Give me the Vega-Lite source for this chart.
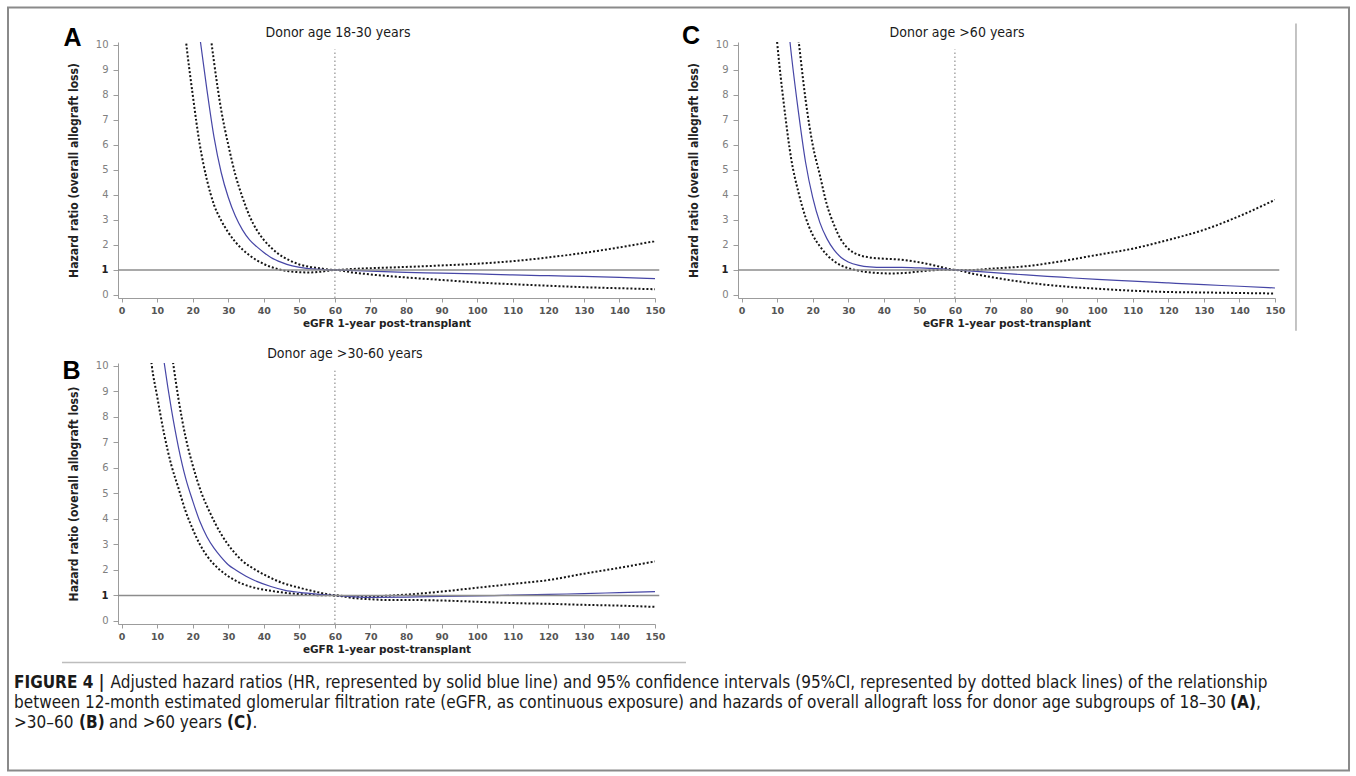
{
  "$schema": "https://vega.github.io/schema/vega-lite/v6.json",
  "padding": {"left": 7, "top": 6, "right": 6, "bottom": 5},
  "background": "white",
  "config": {
    "font": "Liberation Sans",
    "view": {"stroke": null},
    "axis": {"grid": false, "domainColor": "#9c9c9c", "tickColor": "#9c9c9c", "domainWidth": 1, "tickWidth": 1, "labelOverlap": false},
    "axisX": {"labelFont": "DejaVu Sans", "labelFontWeight": "bold", "labelFontSize": 9.5, "labelColor": "#555555", "tickSize": 4, "labelPadding": 3, "labelFlush": false, "titleFont": "DejaVu Sans", "titleFontWeight": "bold", "titleFontSize": 10.5, "titleColor": "#222222", "titlePadding": 4},
    "axisY": {"labelFont": "DejaVu Sans", "labelFontSize": 10, "labelColor": "#808080", "tickSize": 5, "labelPadding": 5, "titleFont": "DejaVu Sans Condensed, Liberation Sans", "titleFontWeight": "bold", "titleFontSize": 12, "titleColor": "#222222", "titlePadding": 15}
  },
  "datasets": {
    "labels": [
      {"panel": "A", "letter": "A", "title": "Donor age 18-30 years"},
      {"panel": "B", "letter": "B", "title": "Donor age >30-60 years"},
      {"panel": "C", "letter": "C", "title": "Donor age >60 years"}
    ],
    "caption": [
      {"line": 1, "part": 1, "text": "FIGURE 4 |"},
      {"line": 1, "part": 2, "text": "Adjusted hazard ratios (HR, represented by solid blue line) and 95% confidence intervals (95%CI, represented by dotted black lines) of the relationship"},
      {"line": 2, "part": 1, "text": "between 12-month estimated glomerular filtration rate (eGFR, as continuous exposure) and hazards of overall allograft loss for donor age subgroups of 18–30"},
      {"line": 2, "part": 2, "text": "(A)"},
      {"line": 2, "part": 3, "text": ","},
      {"line": 3, "part": 1, "text": ">30–60"},
      {"line": 3, "part": 2, "text": "(B)"},
      {"line": 3, "part": 3, "text": "and >60 years"},
      {"line": 3, "part": 4, "text": "(C)"},
      {"line": 3, "part": 5, "text": "."}
    ],
    "curves": [
      {"panel": "A", "series": "HR", "x": 21, "y": 11.4}, {"panel": "A", "series": "HR", "x": 22, "y": 10.3}, {"panel": "A", "series": "HR", "x": 24, "y": 8.2}, {"panel": "A", "series": "HR", "x": 26, "y": 6.3}, {"panel": "A", "series": "HR", "x": 28, "y": 4.9}, {"panel": "A", "series": "HR", "x": 30, "y": 3.9}, {"panel": "A", "series": "HR", "x": 32, "y": 3.15}, {"panel": "A", "series": "HR", "x": 34, "y": 2.6}, {"panel": "A", "series": "HR", "x": 36, "y": 2.2}, {"panel": "A", "series": "HR", "x": 38, "y": 1.93}, {"panel": "A", "series": "HR", "x": 40, "y": 1.7}, {"panel": "A", "series": "HR", "x": 42, "y": 1.5}, {"panel": "A", "series": "HR", "x": 45, "y": 1.3}, {"panel": "A", "series": "HR", "x": 48, "y": 1.16}, {"panel": "A", "series": "HR", "x": 52, "y": 1.06}, {"panel": "A", "series": "HR", "x": 56, "y": 1.02}, {"panel": "A", "series": "HR", "x": 60, "y": 1.0}, {"panel": "A", "series": "HR", "x": 70, "y": 0.95}, {"panel": "A", "series": "HR", "x": 80, "y": 0.9}, {"panel": "A", "series": "HR", "x": 90, "y": 0.87}, {"panel": "A", "series": "HR", "x": 100, "y": 0.84}, {"panel": "A", "series": "HR", "x": 110, "y": 0.8}, {"panel": "A", "series": "HR", "x": 120, "y": 0.77}, {"panel": "A", "series": "HR", "x": 130, "y": 0.74}, {"panel": "A", "series": "HR", "x": 140, "y": 0.7}, {"panel": "A", "series": "HR", "x": 150, "y": 0.65},
      {"panel": "A", "series": "lower", "x": 17.5, "y": 11.0}, {"panel": "A", "series": "lower", "x": 18, "y": 10.3}, {"panel": "A", "series": "lower", "x": 20, "y": 8.0}, {"panel": "A", "series": "lower", "x": 22, "y": 6.0}, {"panel": "A", "series": "lower", "x": 24, "y": 4.6}, {"panel": "A", "series": "lower", "x": 26, "y": 3.6}, {"panel": "A", "series": "lower", "x": 28, "y": 2.98}, {"panel": "A", "series": "lower", "x": 30, "y": 2.5}, {"panel": "A", "series": "lower", "x": 32, "y": 2.12}, {"panel": "A", "series": "lower", "x": 34, "y": 1.82}, {"panel": "A", "series": "lower", "x": 36, "y": 1.58}, {"panel": "A", "series": "lower", "x": 38, "y": 1.39}, {"panel": "A", "series": "lower", "x": 40, "y": 1.24}, {"panel": "A", "series": "lower", "x": 42, "y": 1.12}, {"panel": "A", "series": "lower", "x": 44, "y": 1.03}, {"panel": "A", "series": "lower", "x": 47, "y": 0.95}, {"panel": "A", "series": "lower", "x": 50, "y": 0.91}, {"panel": "A", "series": "lower", "x": 53, "y": 0.9}, {"panel": "A", "series": "lower", "x": 56, "y": 0.93}, {"panel": "A", "series": "lower", "x": 60, "y": 1.0}, {"panel": "A", "series": "lower", "x": 65, "y": 0.9}, {"panel": "A", "series": "lower", "x": 70, "y": 0.82}, {"panel": "A", "series": "lower", "x": 80, "y": 0.7}, {"panel": "A", "series": "lower", "x": 90, "y": 0.6}, {"panel": "A", "series": "lower", "x": 100, "y": 0.5}, {"panel": "A", "series": "lower", "x": 110, "y": 0.43}, {"panel": "A", "series": "lower", "x": 120, "y": 0.37}, {"panel": "A", "series": "lower", "x": 130, "y": 0.31}, {"panel": "A", "series": "lower", "x": 140, "y": 0.27}, {"panel": "A", "series": "lower", "x": 150, "y": 0.23},
      {"panel": "A", "series": "upper", "x": 24.5, "y": 11.0}, {"panel": "A", "series": "upper", "x": 25, "y": 10.4}, {"panel": "A", "series": "upper", "x": 26, "y": 9.3}, {"panel": "A", "series": "upper", "x": 28, "y": 7.4}, {"panel": "A", "series": "upper", "x": 30, "y": 6.0}, {"panel": "A", "series": "upper", "x": 32, "y": 4.8}, {"panel": "A", "series": "upper", "x": 34, "y": 3.9}, {"panel": "A", "series": "upper", "x": 36, "y": 3.15}, {"panel": "A", "series": "upper", "x": 38, "y": 2.6}, {"panel": "A", "series": "upper", "x": 40, "y": 2.2}, {"panel": "A", "series": "upper", "x": 42, "y": 1.9}, {"panel": "A", "series": "upper", "x": 44, "y": 1.65}, {"panel": "A", "series": "upper", "x": 47, "y": 1.4}, {"panel": "A", "series": "upper", "x": 50, "y": 1.22}, {"panel": "A", "series": "upper", "x": 53, "y": 1.12}, {"panel": "A", "series": "upper", "x": 56, "y": 1.06}, {"panel": "A", "series": "upper", "x": 60, "y": 1.0}, {"panel": "A", "series": "upper", "x": 65, "y": 1.04}, {"panel": "A", "series": "upper", "x": 70, "y": 1.07}, {"panel": "A", "series": "upper", "x": 80, "y": 1.12}, {"panel": "A", "series": "upper", "x": 90, "y": 1.18}, {"panel": "A", "series": "upper", "x": 100, "y": 1.25}, {"panel": "A", "series": "upper", "x": 110, "y": 1.35}, {"panel": "A", "series": "upper", "x": 120, "y": 1.5}, {"panel": "A", "series": "upper", "x": 130, "y": 1.68}, {"panel": "A", "series": "upper", "x": 140, "y": 1.9}, {"panel": "A", "series": "upper", "x": 150, "y": 2.15},
      {"panel": "B", "series": "HR", "x": 11.5, "y": 10.6}, {"panel": "B", "series": "HR", "x": 12, "y": 10.1}, {"panel": "B", "series": "HR", "x": 14, "y": 8.3}, {"panel": "B", "series": "HR", "x": 16, "y": 6.8}, {"panel": "B", "series": "HR", "x": 18, "y": 5.6}, {"panel": "B", "series": "HR", "x": 20, "y": 4.7}, {"panel": "B", "series": "HR", "x": 22, "y": 3.9}, {"panel": "B", "series": "HR", "x": 24, "y": 3.3}, {"panel": "B", "series": "HR", "x": 26, "y": 2.85}, {"panel": "B", "series": "HR", "x": 28, "y": 2.5}, {"panel": "B", "series": "HR", "x": 30, "y": 2.2}, {"panel": "B", "series": "HR", "x": 32, "y": 2.0}, {"panel": "B", "series": "HR", "x": 35, "y": 1.75}, {"panel": "B", "series": "HR", "x": 38, "y": 1.55}, {"panel": "B", "series": "HR", "x": 42, "y": 1.35}, {"panel": "B", "series": "HR", "x": 46, "y": 1.2}, {"panel": "B", "series": "HR", "x": 50, "y": 1.12}, {"panel": "B", "series": "HR", "x": 55, "y": 1.05}, {"panel": "B", "series": "HR", "x": 60, "y": 1.0}, {"panel": "B", "series": "HR", "x": 65, "y": 0.95}, {"panel": "B", "series": "HR", "x": 70, "y": 0.92}, {"panel": "B", "series": "HR", "x": 80, "y": 0.93}, {"panel": "B", "series": "HR", "x": 90, "y": 0.96}, {"panel": "B", "series": "HR", "x": 100, "y": 0.98}, {"panel": "B", "series": "HR", "x": 110, "y": 1.01}, {"panel": "B", "series": "HR", "x": 120, "y": 1.04}, {"panel": "B", "series": "HR", "x": 130, "y": 1.07}, {"panel": "B", "series": "HR", "x": 140, "y": 1.11}, {"panel": "B", "series": "HR", "x": 150, "y": 1.15},
      {"panel": "B", "series": "lower", "x": 8, "y": 10.6}, {"panel": "B", "series": "lower", "x": 8.5, "y": 10.0}, {"panel": "B", "series": "lower", "x": 10, "y": 8.8}, {"panel": "B", "series": "lower", "x": 12, "y": 7.3}, {"panel": "B", "series": "lower", "x": 14, "y": 6.1}, {"panel": "B", "series": "lower", "x": 16, "y": 5.2}, {"panel": "B", "series": "lower", "x": 18, "y": 4.3}, {"panel": "B", "series": "lower", "x": 20, "y": 3.6}, {"panel": "B", "series": "lower", "x": 22, "y": 3.0}, {"panel": "B", "series": "lower", "x": 24, "y": 2.55}, {"panel": "B", "series": "lower", "x": 27, "y": 2.08}, {"panel": "B", "series": "lower", "x": 30, "y": 1.75}, {"panel": "B", "series": "lower", "x": 34, "y": 1.45}, {"panel": "B", "series": "lower", "x": 38, "y": 1.28}, {"panel": "B", "series": "lower", "x": 42, "y": 1.18}, {"panel": "B", "series": "lower", "x": 46, "y": 1.1}, {"panel": "B", "series": "lower", "x": 50, "y": 1.05}, {"panel": "B", "series": "lower", "x": 55, "y": 1.01}, {"panel": "B", "series": "lower", "x": 60, "y": 1.0}, {"panel": "B", "series": "lower", "x": 65, "y": 0.9}, {"panel": "B", "series": "lower", "x": 70, "y": 0.85}, {"panel": "B", "series": "lower", "x": 75, "y": 0.82}, {"panel": "B", "series": "lower", "x": 80, "y": 0.82}, {"panel": "B", "series": "lower", "x": 90, "y": 0.8}, {"panel": "B", "series": "lower", "x": 100, "y": 0.75}, {"panel": "B", "series": "lower", "x": 110, "y": 0.7}, {"panel": "B", "series": "lower", "x": 120, "y": 0.67}, {"panel": "B", "series": "lower", "x": 130, "y": 0.63}, {"panel": "B", "series": "lower", "x": 140, "y": 0.6}, {"panel": "B", "series": "lower", "x": 150, "y": 0.55},
      {"panel": "B", "series": "upper", "x": 14, "y": 10.6}, {"panel": "B", "series": "upper", "x": 14.6, "y": 10.0}, {"panel": "B", "series": "upper", "x": 16, "y": 8.7}, {"panel": "B", "series": "upper", "x": 18, "y": 7.2}, {"panel": "B", "series": "upper", "x": 20, "y": 6.1}, {"panel": "B", "series": "upper", "x": 22.5, "y": 5.0}, {"panel": "B", "series": "upper", "x": 25, "y": 4.2}, {"panel": "B", "series": "upper", "x": 28, "y": 3.4}, {"panel": "B", "series": "upper", "x": 31, "y": 2.8}, {"panel": "B", "series": "upper", "x": 34, "y": 2.35}, {"panel": "B", "series": "upper", "x": 37.7, "y": 2.0}, {"panel": "B", "series": "upper", "x": 41, "y": 1.75}, {"panel": "B", "series": "upper", "x": 45, "y": 1.5}, {"panel": "B", "series": "upper", "x": 50, "y": 1.3}, {"panel": "B", "series": "upper", "x": 55, "y": 1.13}, {"panel": "B", "series": "upper", "x": 60, "y": 1.0}, {"panel": "B", "series": "upper", "x": 65, "y": 0.97}, {"panel": "B", "series": "upper", "x": 70, "y": 0.97}, {"panel": "B", "series": "upper", "x": 80, "y": 1.03}, {"panel": "B", "series": "upper", "x": 90, "y": 1.15}, {"panel": "B", "series": "upper", "x": 100, "y": 1.3}, {"panel": "B", "series": "upper", "x": 110, "y": 1.45}, {"panel": "B", "series": "upper", "x": 120, "y": 1.6}, {"panel": "B", "series": "upper", "x": 130, "y": 1.85}, {"panel": "B", "series": "upper", "x": 140, "y": 2.08}, {"panel": "B", "series": "upper", "x": 150, "y": 2.33},
      {"panel": "C", "series": "HR", "x": 13, "y": 10.9}, {"panel": "C", "series": "HR", "x": 14, "y": 9.6}, {"panel": "C", "series": "HR", "x": 16, "y": 7.3}, {"panel": "C", "series": "HR", "x": 18, "y": 5.3}, {"panel": "C", "series": "HR", "x": 20, "y": 3.9}, {"panel": "C", "series": "HR", "x": 22, "y": 2.9}, {"panel": "C", "series": "HR", "x": 24, "y": 2.25}, {"panel": "C", "series": "HR", "x": 26, "y": 1.8}, {"panel": "C", "series": "HR", "x": 28, "y": 1.5}, {"panel": "C", "series": "HR", "x": 30, "y": 1.32}, {"panel": "C", "series": "HR", "x": 33, "y": 1.18}, {"panel": "C", "series": "HR", "x": 36, "y": 1.12}, {"panel": "C", "series": "HR", "x": 40, "y": 1.1}, {"panel": "C", "series": "HR", "x": 45, "y": 1.1}, {"panel": "C", "series": "HR", "x": 50, "y": 1.08}, {"panel": "C", "series": "HR", "x": 55, "y": 1.05}, {"panel": "C", "series": "HR", "x": 60, "y": 1.0}, {"panel": "C", "series": "HR", "x": 70, "y": 0.9}, {"panel": "C", "series": "HR", "x": 80, "y": 0.8}, {"panel": "C", "series": "HR", "x": 90, "y": 0.71}, {"panel": "C", "series": "HR", "x": 100, "y": 0.62}, {"panel": "C", "series": "HR", "x": 110, "y": 0.55}, {"panel": "C", "series": "HR", "x": 120, "y": 0.48}, {"panel": "C", "series": "HR", "x": 130, "y": 0.41}, {"panel": "C", "series": "HR", "x": 140, "y": 0.35}, {"panel": "C", "series": "HR", "x": 150, "y": 0.28},
      {"panel": "C", "series": "lower", "x": 9.5, "y": 10.9}, {"panel": "C", "series": "lower", "x": 10, "y": 10.1}, {"panel": "C", "series": "lower", "x": 12, "y": 7.5}, {"panel": "C", "series": "lower", "x": 14, "y": 5.4}, {"panel": "C", "series": "lower", "x": 16, "y": 4.1}, {"panel": "C", "series": "lower", "x": 18, "y": 3.1}, {"panel": "C", "series": "lower", "x": 20, "y": 2.4}, {"panel": "C", "series": "lower", "x": 22, "y": 1.95}, {"panel": "C", "series": "lower", "x": 24, "y": 1.6}, {"panel": "C", "series": "lower", "x": 26, "y": 1.35}, {"panel": "C", "series": "lower", "x": 28, "y": 1.18}, {"panel": "C", "series": "lower", "x": 30, "y": 1.07}, {"panel": "C", "series": "lower", "x": 32, "y": 1.0}, {"panel": "C", "series": "lower", "x": 35, "y": 0.92}, {"panel": "C", "series": "lower", "x": 38, "y": 0.88}, {"panel": "C", "series": "lower", "x": 42, "y": 0.86}, {"panel": "C", "series": "lower", "x": 46, "y": 0.88}, {"panel": "C", "series": "lower", "x": 50, "y": 0.94}, {"panel": "C", "series": "lower", "x": 54, "y": 0.99}, {"panel": "C", "series": "lower", "x": 57, "y": 1.01}, {"panel": "C", "series": "lower", "x": 60, "y": 1.0}, {"panel": "C", "series": "lower", "x": 65, "y": 0.85}, {"panel": "C", "series": "lower", "x": 70, "y": 0.72}, {"panel": "C", "series": "lower", "x": 80, "y": 0.5}, {"panel": "C", "series": "lower", "x": 90, "y": 0.35}, {"panel": "C", "series": "lower", "x": 100, "y": 0.25}, {"panel": "C", "series": "lower", "x": 110, "y": 0.17}, {"panel": "C", "series": "lower", "x": 120, "y": 0.12}, {"panel": "C", "series": "lower", "x": 130, "y": 0.1}, {"panel": "C", "series": "lower", "x": 140, "y": 0.08}, {"panel": "C", "series": "lower", "x": 150, "y": 0.06},
      {"panel": "C", "series": "upper", "x": 15.5, "y": 10.8}, {"panel": "C", "series": "upper", "x": 16, "y": 10.2}, {"panel": "C", "series": "upper", "x": 18, "y": 7.8}, {"panel": "C", "series": "upper", "x": 20, "y": 6.0}, {"panel": "C", "series": "upper", "x": 22, "y": 4.8}, {"panel": "C", "series": "upper", "x": 24, "y": 3.6}, {"panel": "C", "series": "upper", "x": 26, "y": 2.8}, {"panel": "C", "series": "upper", "x": 28, "y": 2.2}, {"panel": "C", "series": "upper", "x": 30, "y": 1.85}, {"panel": "C", "series": "upper", "x": 33, "y": 1.6}, {"panel": "C", "series": "upper", "x": 36, "y": 1.5}, {"panel": "C", "series": "upper", "x": 40, "y": 1.45}, {"panel": "C", "series": "upper", "x": 44, "y": 1.42}, {"panel": "C", "series": "upper", "x": 48, "y": 1.35}, {"panel": "C", "series": "upper", "x": 52, "y": 1.25}, {"panel": "C", "series": "upper", "x": 56, "y": 1.12}, {"panel": "C", "series": "upper", "x": 60, "y": 1.0}, {"panel": "C", "series": "upper", "x": 65, "y": 1.0}, {"panel": "C", "series": "upper", "x": 70, "y": 1.05}, {"panel": "C", "series": "upper", "x": 80, "y": 1.15}, {"panel": "C", "series": "upper", "x": 90, "y": 1.35}, {"panel": "C", "series": "upper", "x": 100, "y": 1.6}, {"panel": "C", "series": "upper", "x": 110, "y": 1.85}, {"panel": "C", "series": "upper", "x": 120, "y": 2.2}, {"panel": "C", "series": "upper", "x": 130, "y": 2.6}, {"panel": "C", "series": "upper", "x": 140, "y": 3.15}, {"panel": "C", "series": "upper", "x": 150, "y": 3.8}
    ]
  },
  "bounds": "flush",
  "columns": 2,
  "spacing": {"row": 65, "column": 83},
  "concat": [
    {
      "width": 537,
      "height": 256,
      "resolve": {"axis": {"x": "independent", "y": "independent"}},
      "layer": [
        {
          "data": {"name": "labels"},
          "transform": [{"filter": "datum.panel === 'A'"}],
          "mark": {"type": "rect", "fill": "white", "fillOpacity": 0, "stroke": "#8a8a8a", "strokeWidth": 2, "clip": false},
          "encoding": {"x": {"datum": -31.93, "axis": null}, "x2": {"datum": 345.15}, "y": {"datum": 11.477, "axis": null}, "y2": {"datum": -18.983}}
        },
        {
          "data": {"name": "curves"},
          "transform": [{"filter": "datum.panel === 'A' && datum.series !== 'HR'"}],
          "mark": {"type": "line", "clip": true, "interpolate": "monotone", "color": "#141414", "strokeWidth": 2, "strokeDash": [2, 2]},
          "encoding": {
            "x": {"field": "x", "type": "quantitative", "scale": {"domain": [-1, 150], "nice": false, "zero": false}, "axis": {"values": [0, 10, 20, 30, 40, 50, 60, 70, 80, 90, 100, 110, 120, 130, 140, 150], "labelOverlap": false, "title": "eGFR 1-year post-transplant"}},
            "y": {"field": "y", "type": "quantitative", "scale": {"domain": [-0.12, 10.1], "nice": false, "zero": false}, "axis": {"values": [0, 1, 2, 3, 4, 5, 6, 7, 8, 9, 10], "labelOverlap": false, "labelFontWeight": {"condition": {"test": "datum.value === 1", "value": "bold"}, "value": "normal"}, "labelColor": {"condition": {"test": "datum.value === 1", "value": "#222222"}, "value": "#808080"}, "title": "Hazard ratio (overall allograft loss)"}},
            "detail": {"field": "series", "type": "nominal"}
          }
        },
        {
          "data": {"name": "curves"},
          "transform": [{"filter": "datum.panel === 'A' && datum.series === 'HR'"}],
          "mark": {"type": "line", "clip": true, "interpolate": "monotone", "color": "#4646a6", "strokeWidth": 1.2},
          "encoding": {"x": {"field": "x", "type": "quantitative", "axis": null}, "y": {"field": "y", "type": "quantitative", "axis": null}}
        },
        {
          "data": {"name": "labels"},
          "transform": [{"filter": "datum.panel === 'A'"}],
          "mark": {"type": "rule", "color": "#8c8c8c", "strokeWidth": 1.5, "clip": false},
          "encoding": {"x": {"datum": -1, "axis": null}, "x2": {"datum": 151.2}, "y": {"datum": 1, "axis": null}}
        },
        {
          "data": {"name": "labels"},
          "transform": [{"filter": "datum.panel === 'A'"}],
          "mark": {"type": "rule", "color": "#7a7a7a", "strokeWidth": 1, "strokeDash": [1.5, 2.5]},
          "encoding": {"x": {"datum": 60, "axis": null}, "y": {"datum": -0.12, "axis": null}, "y2": {"datum": 9.8}}
        },
        {
          "data": {"name": "labels"},
          "transform": [{"filter": "datum.panel === 'A'"}],
          "mark": {"type": "text", "font": "Liberation Sans", "fontWeight": "bold", "fontSize": 25, "align": "center", "baseline": "alphabetic", "color": "#000000", "clip": false},
          "encoding": {"x": {"datum": -13.79, "axis": null}, "y": {"datum": 9.96, "axis": null}, "text": {"field": "letter"}}
        },
        {
          "data": {"name": "labels"},
          "transform": [{"filter": "datum.panel === 'A'"}],
          "mark": {"type": "text", "font": "DejaVu Sans Condensed, Liberation Sans", "fontSize": 14, "align": "center", "baseline": "alphabetic", "color": "#1a1a1a", "clip": false},
          "encoding": {"x": {"datum": 60.86, "axis": null}, "y": {"datum": 10.28, "axis": null}, "text": {"field": "title"}}
        }
      ]
    },
    {
      "width": 537,
      "height": 256,
      "resolve": {"axis": {"x": "independent", "y": "independent"}},
      "layer": [
        {
          "data": {"name": "curves"},
          "transform": [{"filter": "datum.panel === 'C' && datum.series !== 'HR'"}],
          "mark": {"type": "line", "clip": true, "interpolate": "monotone", "color": "#141414", "strokeWidth": 2, "strokeDash": [2, 2]},
          "encoding": {
            "x": {"field": "x", "type": "quantitative", "scale": {"domain": [-1, 150], "nice": false, "zero": false}, "axis": {"values": [0, 10, 20, 30, 40, 50, 60, 70, 80, 90, 100, 110, 120, 130, 140, 150], "labelOverlap": false, "title": "eGFR 1-year post-transplant"}},
            "y": {"field": "y", "type": "quantitative", "scale": {"domain": [-0.12, 10.1], "nice": false, "zero": false}, "axis": {"values": [0, 1, 2, 3, 4, 5, 6, 7, 8, 9, 10], "labelOverlap": false, "labelFontWeight": {"condition": {"test": "datum.value === 1", "value": "bold"}, "value": "normal"}, "labelColor": {"condition": {"test": "datum.value === 1", "value": "#222222"}, "value": "#808080"}, "title": "Hazard ratio (overall allograft loss)"}},
            "detail": {"field": "series", "type": "nominal"}
          }
        },
        {
          "data": {"name": "curves"},
          "transform": [{"filter": "datum.panel === 'C' && datum.series === 'HR'"}],
          "mark": {"type": "line", "clip": true, "interpolate": "monotone", "color": "#4646a6", "strokeWidth": 1.2},
          "encoding": {"x": {"field": "x", "type": "quantitative", "axis": null}, "y": {"field": "y", "type": "quantitative", "axis": null}}
        },
        {
          "data": {"name": "labels"},
          "transform": [{"filter": "datum.panel === 'C'"}],
          "mark": {"type": "rule", "color": "#8c8c8c", "strokeWidth": 1.5, "clip": false},
          "encoding": {"x": {"datum": -1, "axis": null}, "x2": {"datum": 151.2}, "y": {"datum": 1, "axis": null}}
        },
        {
          "data": {"name": "labels"},
          "transform": [{"filter": "datum.panel === 'C'"}],
          "mark": {"type": "rule", "color": "#7a7a7a", "strokeWidth": 1, "strokeDash": [1.5, 2.5]},
          "encoding": {"x": {"datum": 60, "axis": null}, "y": {"datum": -0.12, "axis": null}, "y2": {"datum": 9.8}}
        },
        {
          "data": {"name": "labels"},
          "transform": [{"filter": "datum.panel === 'C'"}],
          "mark": {"type": "rule", "color": "#b0b0b0", "strokeWidth": 1.5, "clip": false},
          "encoding": {"x": {"datum": 155.9, "axis": null}, "y": {"datum": 10.84, "axis": null}, "y2": {"datum": -1.43}}
        },
        {
          "data": {"name": "labels"},
          "transform": [{"filter": "datum.panel === 'C'"}],
          "mark": {"type": "text", "font": "Liberation Sans", "fontWeight": "bold", "fontSize": 25, "align": "center", "baseline": "alphabetic", "color": "#000000", "clip": false},
          "encoding": {"x": {"datum": -14.22, "axis": null}, "y": {"datum": 10.04, "axis": null}, "text": {"field": "letter"}}
        },
        {
          "data": {"name": "labels"},
          "transform": [{"filter": "datum.panel === 'C'"}],
          "mark": {"type": "text", "font": "DejaVu Sans Condensed, Liberation Sans", "fontSize": 14, "align": "center", "baseline": "alphabetic", "color": "#1a1a1a", "clip": false},
          "encoding": {"x": {"datum": 60.6, "axis": null}, "y": {"datum": 10.28, "axis": null}, "text": {"field": "title"}}
        }
      ]
    },
    {
      "width": 537,
      "height": 261,
      "resolve": {"axis": {"x": "independent", "y": "independent"}},
      "layer": [
        {
          "data": {"name": "curves"},
          "transform": [{"filter": "datum.panel === 'B' && datum.series !== 'HR'"}],
          "mark": {"type": "line", "clip": true, "interpolate": "monotone", "color": "#141414", "strokeWidth": 2, "strokeDash": [2, 2]},
          "encoding": {
            "x": {"field": "x", "type": "quantitative", "scale": {"domain": [-1, 150], "nice": false, "zero": false}, "axis": {"values": [0, 10, 20, 30, 40, 50, 60, 70, 80, 90, 100, 110, 120, 130, 140, 150], "labelOverlap": false, "title": "eGFR 1-year post-transplant"}},
            "y": {"field": "y", "type": "quantitative", "scale": {"domain": [-0.12, 10.1], "nice": false, "zero": false}, "axis": {"values": [0, 1, 2, 3, 4, 5, 6, 7, 8, 9, 10], "labelOverlap": false, "labelFontWeight": {"condition": {"test": "datum.value === 1", "value": "bold"}, "value": "normal"}, "labelColor": {"condition": {"test": "datum.value === 1", "value": "#222222"}, "value": "#808080"}, "title": "Hazard ratio (overall allograft loss)"}},
            "detail": {"field": "series", "type": "nominal"}
          }
        },
        {
          "data": {"name": "curves"},
          "transform": [{"filter": "datum.panel === 'B' && datum.series === 'HR'"}],
          "mark": {"type": "line", "clip": true, "interpolate": "monotone", "color": "#4646a6", "strokeWidth": 1.2},
          "encoding": {"x": {"field": "x", "type": "quantitative", "axis": null}, "y": {"field": "y", "type": "quantitative", "axis": null}}
        },
        {
          "data": {"name": "labels"},
          "transform": [{"filter": "datum.panel === 'B'"}],
          "mark": {"type": "rule", "color": "#8c8c8c", "strokeWidth": 1.5, "clip": false},
          "encoding": {"x": {"datum": -1, "axis": null}, "x2": {"datum": 151.2}, "y": {"datum": 1, "axis": null}}
        },
        {
          "data": {"name": "labels"},
          "transform": [{"filter": "datum.panel === 'B'"}],
          "mark": {"type": "rule", "color": "#7a7a7a", "strokeWidth": 1, "strokeDash": [1.5, 2.5]},
          "encoding": {"x": {"datum": 60, "axis": null}, "y": {"datum": -0.12, "axis": null}, "y2": {"datum": 9.8}}
        },
        {
          "data": {"name": "labels"},
          "transform": [{"filter": "datum.panel === 'B'"}],
          "mark": {"type": "rule", "color": "#bdbdbd", "strokeWidth": 1.5, "clip": false},
          "encoding": {"x": {"datum": -16.75, "axis": null}, "x2": {"datum": 158.72}, "y": {"datum": -1.632, "axis": null}}
        },
        {
          "data": {"name": "labels"},
          "transform": [{"filter": "datum.panel === 'B'"}],
          "mark": {"type": "text", "font": "Liberation Sans", "fontWeight": "bold", "fontSize": 25, "align": "center", "baseline": "alphabetic", "color": "#000000", "clip": false},
          "encoding": {"x": {"datum": -14.08, "axis": null}, "y": {"datum": 9.49, "axis": null}, "text": {"field": "letter"}}
        },
        {
          "data": {"name": "labels"},
          "transform": [{"filter": "datum.panel === 'B'"}],
          "mark": {"type": "text", "font": "DejaVu Sans Condensed, Liberation Sans", "fontSize": 14, "align": "center", "baseline": "alphabetic", "color": "#1a1a1a", "clip": false},
          "encoding": {"x": {"datum": 62.8, "axis": null}, "y": {"datum": 10.29, "axis": null}, "text": {"field": "title"}}
        },
        {
          "data": {"name": "caption"},
          "transform": [{"filter": "datum.line === 1 && datum.part === 1"}],
          "mark": {"type": "text", "font": "DejaVu Sans Condensed, Liberation Sans", "fontWeight": "bold", "fontSize": 17, "align": "left", "baseline": "middle", "color": "#1a1a1a", "clip": false},
          "encoding": {"x": {"datum": -30.24, "axis": null}, "y": {"datum": -2.415, "axis": null}, "text": {"field": "text"}}
        },
        {
          "data": {"name": "caption"},
          "transform": [{"filter": "datum.line === 1 && datum.part === 2"}],
          "mark": {"type": "text", "font": "DejaVu Sans Condensed, Liberation Sans", "fontSize": 17, "align": "left", "baseline": "middle", "color": "#1a1a1a", "clip": false},
          "encoding": {"x": {"datum": -3.1, "axis": null}, "y": {"datum": -2.415, "axis": null}, "text": {"field": "text"}}
        },
        {
          "data": {"name": "caption"},
          "transform": [{"filter": "datum.line === 2 && datum.part === 1"}],
          "mark": {"type": "text", "font": "DejaVu Sans Condensed, Liberation Sans", "fontSize": 17, "align": "left", "baseline": "middle", "color": "#1a1a1a", "clip": false},
          "encoding": {"x": {"datum": -30.24, "axis": null}, "y": {"datum": -3.198, "axis": null}, "text": {"field": "text"}}
        },
        {
          "data": {"name": "caption"},
          "transform": [{"filter": "datum.line === 2 && datum.part === 2"}],
          "mark": {"type": "text", "font": "DejaVu Sans Condensed, Liberation Sans", "fontWeight": "bold", "fontSize": 17, "align": "left", "baseline": "middle", "color": "#1a1a1a", "clip": false},
          "encoding": {"x": {"datum": 311.7, "axis": null}, "y": {"datum": -3.198, "axis": null}, "text": {"field": "text"}}
        },
        {
          "data": {"name": "caption"},
          "transform": [{"filter": "datum.line === 2 && datum.part === 3"}],
          "mark": {"type": "text", "font": "DejaVu Sans Condensed, Liberation Sans", "fontSize": 17, "align": "left", "baseline": "middle", "color": "#1a1a1a", "clip": false},
          "encoding": {"x": {"datum": 319.0, "axis": null}, "y": {"datum": -3.198, "axis": null}, "text": {"field": "text"}}
        },
        {
          "data": {"name": "caption"},
          "transform": [{"filter": "datum.line === 3 && datum.part === 1"}],
          "mark": {"type": "text", "font": "DejaVu Sans Condensed, Liberation Sans", "fontSize": 17, "align": "left", "baseline": "middle", "color": "#1a1a1a", "clip": false},
          "encoding": {"x": {"datum": -30.24, "axis": null}, "y": {"datum": -3.98, "axis": null}, "text": {"field": "text"}}
        },
        {
          "data": {"name": "caption"},
          "transform": [{"filter": "datum.line === 3 && datum.part === 2"}],
          "mark": {"type": "text", "font": "DejaVu Sans Condensed, Liberation Sans", "fontWeight": "bold", "fontSize": 17, "align": "left", "baseline": "middle", "color": "#1a1a1a", "clip": false},
          "encoding": {"x": {"datum": -11.97, "axis": null}, "y": {"datum": -3.98, "axis": null}, "text": {"field": "text"}}
        },
        {
          "data": {"name": "caption"},
          "transform": [{"filter": "datum.line === 3 && datum.part === 3"}],
          "mark": {"type": "text", "font": "DejaVu Sans Condensed, Liberation Sans", "fontSize": 17, "align": "left", "baseline": "middle", "color": "#1a1a1a", "clip": false},
          "encoding": {"x": {"datum": -3.53, "axis": null}, "y": {"datum": -3.98, "axis": null}, "text": {"field": "text"}}
        },
        {
          "data": {"name": "caption"},
          "transform": [{"filter": "datum.line === 3 && datum.part === 4"}],
          "mark": {"type": "text", "font": "DejaVu Sans Condensed, Liberation Sans", "fontWeight": "bold", "fontSize": 17, "align": "left", "baseline": "middle", "color": "#1a1a1a", "clip": false},
          "encoding": {"x": {"datum": 29.65, "axis": null}, "y": {"datum": -3.98, "axis": null}, "text": {"field": "text"}}
        },
        {
          "data": {"name": "caption"},
          "transform": [{"filter": "datum.line === 3 && datum.part === 5"}],
          "mark": {"type": "text", "font": "DejaVu Sans Condensed, Liberation Sans", "fontSize": 17, "align": "left", "baseline": "middle", "color": "#1a1a1a", "clip": false},
          "encoding": {"x": {"datum": 36.8, "axis": null}, "y": {"datum": -3.98, "axis": null}, "text": {"field": "text"}}
        }
      ]
    }
  ]
}
